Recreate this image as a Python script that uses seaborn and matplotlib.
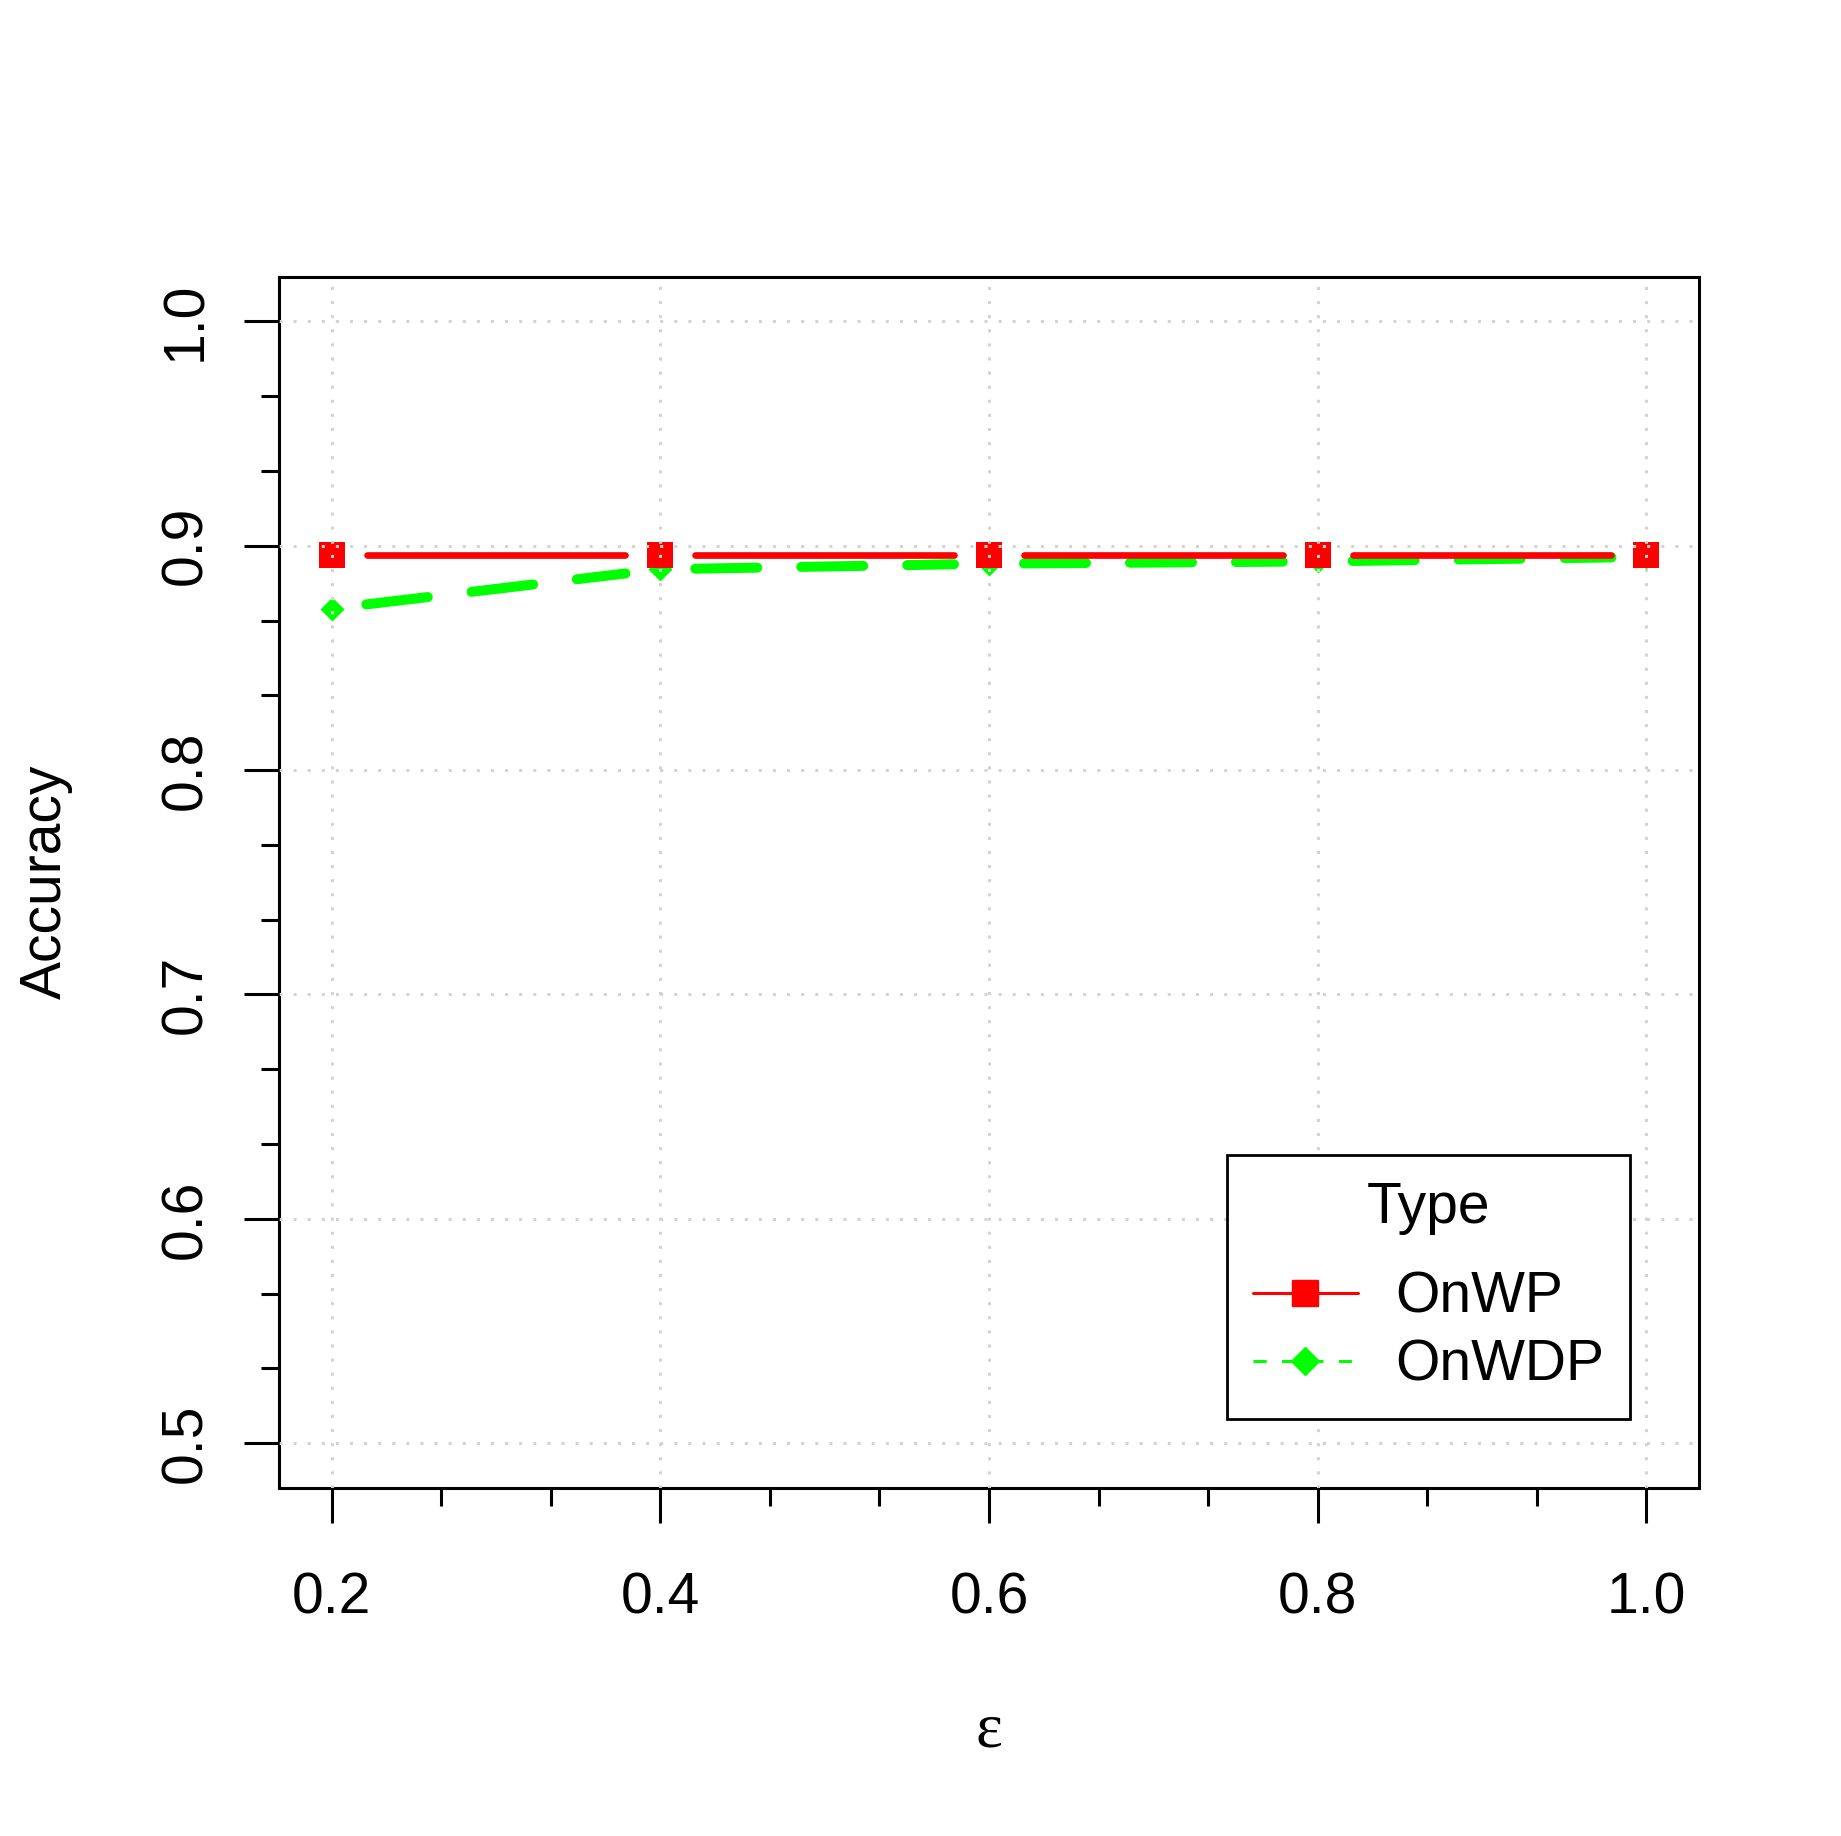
import seaborn as sns
import pandas as pd
import matplotlib.pyplot as plt
import numpy as np
from matplotlib.lines import Line2D
from matplotlib.ticker import MultipleLocator, AutoMinorLocator, FormatStrFormatter

# values
epsilon = [0.2, 0.4, 0.6, 0.8, 1.0]
onwp = [0.896, 0.896, 0.896, 0.896, 0.896]
onwdp = [0.872, 0.8895, 0.892, 0.893, 0.895]
type_names = ["OnWP", "OnWDP"]
type_colors = {"OnWP": "#ff0000", "OnWDP": "#00ff00"}
y_range = [0.5, 1.0]

df = pd.DataFrame({
	"eps": epsilon * 2,
	"acc": onwp + onwdp,
	"Type": ["OnWP"] * len(onwp) + ["OnWDP"] * len(onwdp),
})

sns.set_theme(style="white")
plt.rcParams["font.family"] = ["Liberation Sans", "DejaVu Sans"]
plt.rcParams["text.color"] = "black"
plt.rcParams["axes.labelcolor"] = "black"
plt.rcParams["xtick.color"] = "black"
plt.rcParams["ytick.color"] = "black"

FS = 41

fig = plt.figure(figsize=(18.41, 18.36), dpi=100)
ax = fig.add_axes([0.1515, 0.1895, 0.7714, 0.6599])

# R style 4% padding of the ranges
xr = max(epsilon) - min(epsilon)
ax.set_xlim(min(epsilon) - 0.04 * xr, max(epsilon) + 0.04 * xr)
yr = y_range[1] - y_range[0]
ax.set_ylim(y_range[0] - 0.04 * yr, y_range[1] + 0.04 * yr)


def draw_type_b(ax, x, y, color, lw, ls, capstyle, gap_px=35):
	# lines stop short of the points, like R's type="b"
	trans = ax.transData
	pts = trans.transform(np.column_stack([x, y]))
	inv = trans.inverted()
	for p0, p1 in zip(pts[:-1], pts[1:]):
		d = p1 - p0
		u = d / np.hypot(d[0], d[1])
		a, b = inv.transform([p0 + u * gap_px, p1 - u * gap_px])
		line, = ax.plot([a[0], b[0]], [a[1], b[1]], color=color, lw=lw,
						linestyle=ls, zorder=2)
		line.set_solid_capstyle(capstyle)
		line.set_dash_capstyle(capstyle)


# green first, red on top
sub = df[df["Type"] == "OnWDP"]
draw_type_b(ax, sub["eps"].values, sub["acc"].values, type_colors["OnWDP"],
			7.2, (0, (6.2, 4.4)), "round")
sns.scatterplot(data=sub, x="eps", y="acc", color=type_colors["OnWDP"],
				marker="D", s=150, linewidth=0, legend=False, ax=ax, zorder=2)

sub = df[df["Type"] == "OnWP"]
draw_type_b(ax, sub["eps"].values, sub["acc"].values, type_colors["OnWP"],
			4.8, "-", "round")
sns.scatterplot(data=sub, x="eps", y="acc", color=type_colors["OnWP"],
				marker="s", s=18.4 ** 2, linewidth=0, legend=False, ax=ax, zorder=2)

# axes, ticks, grid
ax.xaxis.set_major_locator(MultipleLocator(0.2))
ax.xaxis.set_minor_locator(AutoMinorLocator(3))
ax.yaxis.set_major_locator(MultipleLocator(0.1))
ax.yaxis.set_minor_locator(AutoMinorLocator(3))
ax.xaxis.set_major_formatter(FormatStrFormatter("%.1f"))
ax.yaxis.set_major_formatter(FormatStrFormatter("%.1f"))

for sp in ax.spines.values():
	sp.set_visible(True)
	sp.set_color("black")
	sp.set_linewidth(2.2)

ax.tick_params(which="both", direction="out", color="black", width=2.2,
			   bottom=True, left=True, top=False, right=False)
ax.tick_params(which="major", length=25.2, labelsize=FS, labelcolor="black")
ax.tick_params(which="minor", length=13)
ax.tick_params(axis="x", which="major", pad=35)
ax.tick_params(axis="y", which="major", pad=22, labelrotation=90)
for lab in ax.get_yticklabels():
	lab.set_va("center")

ax.grid(True, which="major", color="#d3d3d3", lw=2.16, linestyle=(0, (1, 3.7)))
ax.set_axisbelow(False)

ax.set_ylabel("Accuracy", fontsize=FS, color="black")
ax.yaxis.set_label_coords(-0.1454, 0.5)
ax.set_xlabel("ε", fontsize=46, color="black", family=["Liberation Serif", "DejaVu Serif"],
			  va="baseline")
ax.xaxis.set_label_coords(0.5, -0.213)

# legend
handles = [
	Line2D([], [], color=type_colors["OnWP"], lw=2.2, marker="s", markersize=18.7),
	Line2D([], [], color=type_colors["OnWDP"], lw=2.2, linestyle=(0, (4.3, 5)),
		   marker="D", markersize=14.3),
]
leg = ax.legend(handles, type_names, title="Type", fontsize=FS, title_fontsize=FS,
				loc="upper left", bbox_to_anchor=(1227 / 1841, 1 - 1155 / 1836),
				bbox_transform=fig.transFigure, borderaxespad=0, borderpad=0.45,
				handlelength=1.85, handletextpad=0.65, labelspacing=0.25,
				fancybox=False, framealpha=1, edgecolor="black", labelcolor="black")
leg.get_title().set_color("black")
leg.get_frame().set_linewidth(2.0)
leg._legend_box.sep = 26

plt.savefig("out.png", dpi=100)
